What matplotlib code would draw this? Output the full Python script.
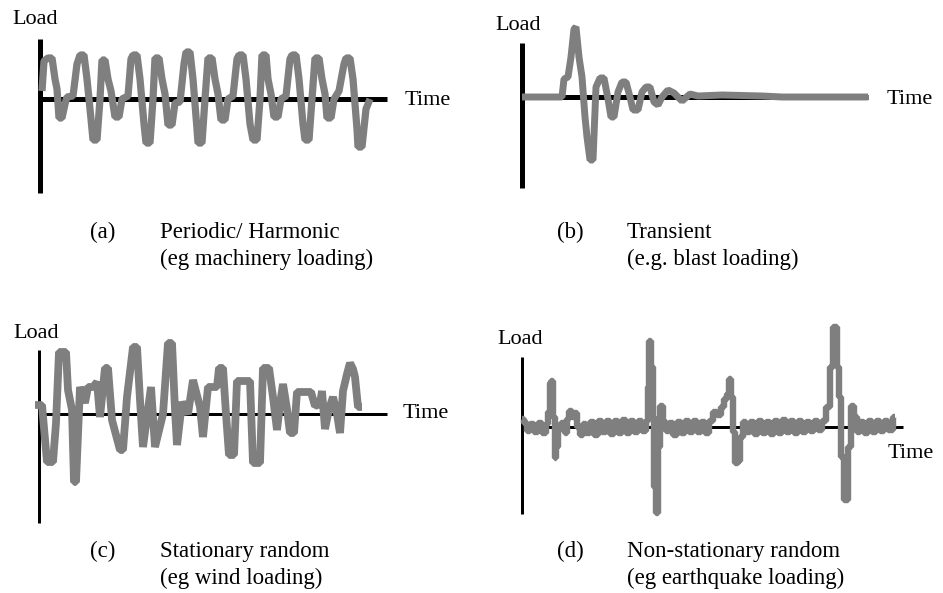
import matplotlib
matplotlib.use("Agg")
import matplotlib.pyplot as plt

# Waveforms: time (px from the load axis) and load (px above the time axis)
periodic_t = [2, 4, 8, 12, 15, 17, 19, 22, 25, 27, 33, 37, 40, 44, 47, 51, 53, 57, 60, 62,
              65, 68, 71, 75, 79, 82, 88, 91, 93, 97, 100, 104, 106, 110, 113, 115, 119,
              122, 125, 128, 132, 135, 140, 144, 146, 150, 153, 157, 158, 162, 165, 168,
              172, 175, 178, 181, 185, 188, 193, 197, 199, 203, 206, 210, 213, 217, 220,
              222, 226, 228, 231, 234, 238, 241, 246, 250, 252, 256, 259, 263, 265, 269,
              272, 275, 279, 282, 285, 287, 291, 294, 299, 304, 306, 310, 313, 317, 318,
              322, 326, 330]
periodic_load = [8, 38, 41, 41, 20, 10, -19, -19, -5, 2, 3, 35, 44, 44, 20, -20, -41, -41,
                 0, 39, 39, 20, 8, -18, -18, 0, 3, 40, 44, 44, 20, -25, -44, -44, 0, 41,
                 41, 20, 5, -26, -26, -4, -3, 35, 47, 47, 20, -30, -44, -44, 0, 41, 41, 20,
                 5, -21, -21, 0, 3, 40, 44, 44, 20, -25, -41, -41, 0, 44, 44, 20, 5, -18,
                 -18, 0, 3, 40, 44, 44, 20, -25, -41, -41, 0, 41, 41, 20, 5, -19, -19, 0,
                 8, 35, 41, 41, 20, -30, -48, -48, -10, 0]

transient_t = [0, 40, 42, 46, 49, 52, 54, 57, 60, 63, 65, 68, 71, 74, 78, 82, 86, 89, 92,
               96, 100, 104, 108, 111, 116, 120, 124, 128, 132, 136, 140, 146, 152, 160,
               168, 176, 200, 240, 260, 346]
transient_load = [0, 0, 18, 20, 40, 68, 70, 40, 20, -20, -40, -63, -63, 10, 19, 19, -2,
                  -20, -20, 5, 15, 15, 0, -13, -13, 5, 10, 10, -5, -8, 0, 7, 4, -4, 3, 1,
                  2, 1, 0, 0]

stationary_t = [-4, 3, 8, 14, 17, 20, 27, 29, 33, 35, 37, 41, 46, 49, 54, 58, 61, 66, 69,
                73, 81, 84, 88, 94, 98, 101, 104, 112, 116, 124, 129, 133, 136, 138, 143,
                149, 154, 161, 164, 169, 178, 180, 184, 187, 190, 195, 198, 211, 214, 221,
                224, 230, 234, 238, 241, 244, 248, 251, 255, 258, 272, 276, 281, 283, 286,
                290, 294, 298, 301, 304, 308, 311, 314, 316, 319, 323]
stationary_load = [9, 9, -48, -48, -9, 62, 62, 24, 4, -68, -68, 27, 11, 27, 27, 32, -3,
                   46, 46, -6, -36, -36, 17, 67, 67, 14, -33, 27, -33, 0, 71, 71, 4, -31,
                   12, 0, 34, 7, -23, 27, 27, 46, 46, 0, -41, -41, 33, 33, -49, -49, 46,
                   46, 17, -16, 10, 30, 5, -19, -19, 22, 22, 8, 10, 23, -15, 5, 17, 0, -19,
                   23, 40, 51, 45, 37, 7, 7]

nonstat_t = [0, 3, 6, 10, 14, 18, 22, 25, 27, 28, 30, 32, 33, 35, 37, 41, 44, 46, 48, 51,
             53, 56, 59, 62, 66, 70, 74, 78, 82, 86, 90, 94, 98, 102, 106, 110, 114, 118,
             122, 125, 126, 128, 130, 131, 133, 135, 137, 139, 142, 145, 149, 153, 157,
             161, 165, 169, 173, 177, 181, 185, 189, 193, 197, 201, 203, 206, 208, 210,
             212, 214, 217, 219, 222, 226, 230, 234, 238, 242, 246, 250, 254, 258, 262,
             266, 270, 274, 278, 282, 286, 290, 294, 298, 302, 306, 309, 313, 316, 318,
             320, 324, 327, 330, 333, 336, 340, 344, 348, 352, 356, 360, 364, 368, 373]
nonstat_load = [8, 4, -4, 3, -5, 4, -6, 3, 15, 44, 46, 10, -31, -20, -2, 4, -6, 8, 16, 10,
                14, 0, -8, 3, -6, 5, -8, 6, -5, 6, -7, 6, -6, 7, -6, 6, -5, 6, -4, 6, 40,
                86, 60, 10, -60, -86, -20, 21, 5, -4, 4, -8, 5, -6, 6, -5, 6, -5, 5, -6,
                6, 15, 12, 20, 28, 33, 48, 30, -5, -36, -34, -10, 5, -5, 5, -7, 6, -6, 5,
                -7, 6, -6, 7, -5, 6, -6, 6, -5, 5, -4, 6, -3, 6, 20, 60, 100, 60, 30,
                -30, -73, -20, 21, 10, -5, 5, -6, 6, -5, 6, -4, 6, -3, 10]

# panel layout in figure pixels: origin of the axes, axis extents, label spots
W, H = 943, 593
GREY = "#7f7f7f"
SERIF = ["Liberation Serif", "DejaVu Serif"]

panels = [
    dict(origin=(40, 99), up=60, down=94, right=347, lw_axis=5, t=periodic_t,
         y=periodic_load, load_at=(-28, 80), time_at=(365, -1), steps="default", lw=5.2),
    dict(origin=(522, 97), up=54, down=91, right=346, lw_axis=5, t=transient_t,
         y=transient_load, load_at=(-27, 72), time_at=(365, -2), steps="default", lw=5.0),
    dict(origin=(39, 414), up=64, down=109, right=348, lw_axis=3, t=stationary_t,
         y=stationary_load, load_at=(-26, 81), time_at=(364, 1), steps="default", lw=5.6),
    dict(origin=(522, 427), up=70, down=87, right=381, lw_axis=3, t=nonstat_t,
         y=nonstat_load, load_at=(-25, 88), time_at=(366, -26), steps="steps-mid", lw=4.6),
]

captions = [
    ((90, 232), "(a)", ["Periodic/ Harmonic", "(eg machinery loading)"]),
    ((557, 232), "(b)", ["Transient", "(e.g. blast loading)"]),
    ((90, 551), "(c)", ["Stationary random", "(eg wind loading)"]),
    ((557, 551), "(d)", ["Non-stationary random", "(eg earthquake loading)"]),
]

fig = plt.figure(figsize=(W / 100, H / 100), dpi=100)

for p in panels:
    ox, oy = p["origin"]
    ax = fig.add_axes([0, 0, 1, 1])
    ax.patch.set_alpha(0)
    # one data unit == one pixel, origin at the axes crossing
    ax.set_xlim(-ox, W - ox)
    ax.set_ylim(oy - H, oy)
    for side in ("top", "right"):
        ax.spines[side].set_visible(False)
    ax.spines["left"].set_position(("data", 0))
    ax.spines["left"].set_bounds(-p["down"], p["up"])
    ax.spines["bottom"].set_position(("data", 0))
    ax.spines["bottom"].set_bounds(0, p["right"])
    for side in ("left", "bottom"):
        ax.spines[side].set_linewidth(p["lw_axis"] * 0.72)
        ax.spines[side].set_capstyle("butt")
    ax.set_xticks([])
    ax.set_yticks([])

    ax.plot(p["t"], p["y"], color=GREY, lw=p["lw"], zorder=3, drawstyle=p["steps"],
            solid_joinstyle="bevel", solid_capstyle="butt")

    ax.text(*p["load_at"], "Load", family=SERIF, fontsize=16, va="center", ha="left")
    ax.text(*p["time_at"], "Time", family=SERIF, fontsize=16, va="center", ha="left")

for (x, y), tag, lines in captions:
    fig.text(x / W, 1 - y / H, tag, family=SERIF, fontsize=16.5, va="center")
    for i, line in enumerate(lines):
        fig.text((x + 70) / W, 1 - (y + 27 * i) / H, line, family=SERIF,
                 fontsize=16.5, va="center")

fig.savefig("out.png", dpi=100)
